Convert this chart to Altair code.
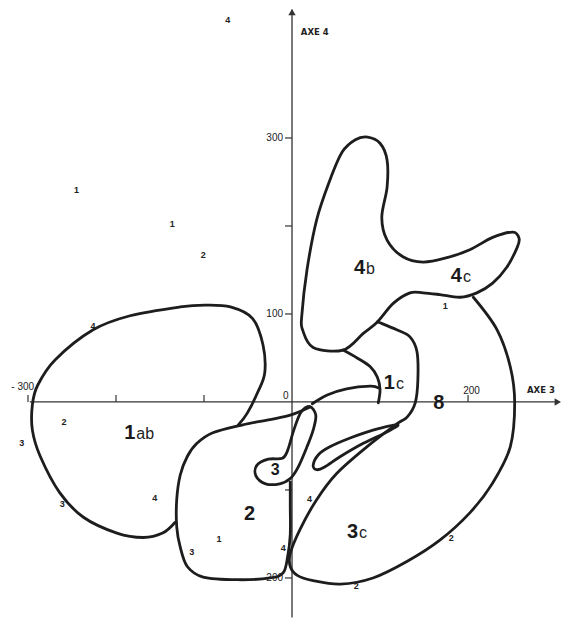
import altair as alt
import pandas as pd

# ---- contour outlines (AXE 3 / AXE 4 units) ----
# group 1ab outline, open where it meets group 2
ab_x = [-61, -51, -39, -31, -33, -45, -70, -99, -127, -184, -226, -269, -289, -295, -295, -286, -264, -237, -199, -169, -147, -133]
ab_y = [-26, -13, 11, 33, 65, 95, 108, 110, 108, 98, 82, 48, 19, -3, -32, -62, -103, -131, -149, -154, -149, -137]

# group 2 outline
g2_x = [20, -2, -25, -56, -90, -108, -119, -127, -131, -131, -127, -119, -101, -62, -25, -10, -5, -2, -2, -2]
g2_y = [-6, -15, -20, -26, -35, -47, -62, -83, -111, -142, -165, -187, -199, -202, -200, -194, -176, -151, -117, -91]

# group 3 bulb with its stalk (closed)
g3_x = [20, 27, 24, 17, 7, -2, -14, -30, -41, -40, -27, -11, -5, 2, 10]
g3_y = [-5, -15, -32, -51, -74, -87, -93, -93, -84, -72, -65, -64, -55, -32, -12]

# group 1c: lower edge and neck
c1_x = [23, 40, 62, 89, 98]
c1_y = [-2, 8, 15, 18, 16]
nk_x = [58, 74, 89, 97, 100, 98]
nk_y = [59, 50, 40, 28, 14, -1]

# groups 4b / 4c (closed)
g4_x = [11, 17, 28, 43, 57, 72, 86, 100, 108, 108, 102, 108, 126, 149, 176, 202, 228, 251, 258, 256, 244, 228, 210, 191, 168, 149, 134, 115, 97, 81, 58, 24, 12]
g4_y = [97, 150, 207, 252, 284, 298, 301, 294, 275, 244, 210, 184, 165, 159, 164, 173, 187, 193, 186, 176, 153, 135, 124, 119, 122, 124, 124, 112, 91, 78, 59, 62, 82]

# outer arc: 1c right side, 3c and the large right-hand group
oa_x = [97, 100, 119, 134, 142, 143, 140, 131, 119, 85, 51, 28, 9, -2, -2, 6, 24, 55, 92, 131, 168, 202, 228, 248, 253, 248, 233, 206]
oa_y = [91, 90, 82, 74, 57, 25, -1, -17, -25, -51, -81, -111, -145, -172, -187, -197, -203, -207, -200, -181, -157, -126, -92, -51, -1, 40, 82, 119]

# thin loop below 1c (closed)
tl_x = [120, 92, 66, 43, 30, 24, 28, 37, 55, 81, 108]
tl_y = [-26, -32, -41, -51, -60, -72, -77, -74, -62, -47, -34]

# ---- individual observations ----
pt_lab = ["4", "1", "1", "2", "4", "2", "3", "3", "4", "3", "1", "4", "4", "2", "2", "1"]
pt_x = [-73, -245, -136, -101, -226, -259, -307, -261, -156, -114, -83, -10, 20, 181, 73, 174]
pt_y = [434, 241, 202, 167, 86, -23, -47, -116, -109, -170, -156, -166, -110, -155, -209, 109]

# ---- group names (number + letter suffix) ----
grp_num = ["1", "2", "3", "1", "8", "4", "4"]
grp_suf = ["ab", "", "c", "c", "", "b", "c"]
grp_x = [-178, -42, 75, 117, 173, 83, 193]
grp_y = [-35, -127, -148, 22, -1, 152, 143]
bulb_lab = ["3"]
bulb_x = [-14]
bulb_y = [-77]

# ---- axes ----
y_ticks = [300, 200, 100, -100, -200]
y_tick_lab = ["300", "", "100", "", "-200"]
x_ticks = [-300, -200, -100, 200]

X0, X1 = -331.8, 307.9
Y0, Y1 = -245.5, 456.8
xs = alt.Scale(domain=[X0, X1], nice=False, zero=False)
ys = alt.Scale(domain=[Y0, Y1], nice=False, zero=False)
INK = "#1d1d1d"


def frame(name, xv, yv):
    return pd.DataFrame({"path": name, "order": list(range(len(xv))), "x": xv, "y": yv})


open_df = pd.concat([frame("1ab", ab_x, ab_y), frame("2", g2_x, g2_y),
                     frame("1c", c1_x, c1_y), frame("neck", nk_x, nk_y),
                     frame("arc", oa_x, oa_y)])
closed_df = pd.concat([frame("3", g3_x, g3_y), frame("4bc", g4_x, g4_y),
                       frame("loop", tl_x, tl_y)])

ex = alt.X("x:Q", scale=xs, axis=None)
ey = alt.Y("y:Q", scale=ys, axis=None)

open_lines = alt.Chart(open_df).mark_line(
    interpolate="cardinal", color=INK, strokeWidth=2.8, strokeCap="round", strokeJoin="round"
).encode(x=ex, y=ey, detail="path:N", order="order:Q")

closed_lines = alt.Chart(closed_df).mark_line(
    interpolate="cardinal-closed", color=INK, strokeWidth=2.8, strokeJoin="round"
).encode(x=ex, y=ey, detail="path:N", order="order:Q")

# axis lines
axes_df = pd.DataFrame({"x": [-298, 0], "x2": [300, 0], "y": [0, -245], "y2": [0, 446]})
axis_lines = alt.Chart(axes_df).mark_rule(color="#333", strokeWidth=1.3).encode(
    x=ex, x2="x2:Q", y=ey, y2="y2:Q")

arrow_df = pd.DataFrame({"x": [0], "y": [443]})
arrow_up = alt.Chart(arrow_df).mark_point(shape="triangle-up", filled=True, size=55,
                                          color="#333", opacity=1).encode(x=ex, y=ey)
arrow_r_df = pd.DataFrame({"x": [302], "y": [0]})
arrow_right = alt.Chart(arrow_r_df).mark_point(shape="triangle-right", filled=True, size=55,
                                               color="#333", opacity=1).encode(x=ex, y=ey)

yt_df = pd.DataFrame({"x": [-8] * len(y_ticks), "x2": [0] * len(y_ticks), "y": y_ticks, "lab": y_tick_lab})
y_tick_marks = alt.Chart(yt_df).mark_rule(color="#333", strokeWidth=1.2).encode(x=ex, x2="x2:Q", y=ey)
y_tick_text = alt.Chart(yt_df).mark_text(align="right", baseline="middle", dx=-9, fontSize=10,
                                         font="Liberation Sans", color="#222").encode(
    x=alt.X("x2:Q", scale=xs, axis=None), y=ey, text="lab:N")

xt_df = pd.DataFrame({"x": x_ticks, "y": [0] * len(x_ticks), "y2": [8] * len(x_ticks)})
x_tick_marks = alt.Chart(xt_df).mark_rule(color="#333", strokeWidth=1.2).encode(x=ex, y=ey, y2="y2:Q")

axis_text_df = pd.DataFrame({
    "x": [-306, -7, 204],
    "y": [17, 7, 12],
    "lab": ["- 300", "0", "200"],
})
axis_text = alt.Chart(axis_text_df).mark_text(baseline="middle", fontSize=10, font="Liberation Sans",
                                              color="#222").encode(x=ex, y=ey, text="lab:N")

title_df = pd.DataFrame({"x": [10, 267], "y": [420, 14], "lab": ["AXE 4", "AXE 3"]})
axis_titles = alt.Chart(title_df).mark_text(align="left", baseline="middle", fontSize=8.5,
                                            fontWeight="bold", font="DejaVu Sans",
                                            color="#222").encode(x=ex, y=ey, text="lab:N")

# observation numbers
pts_df = pd.DataFrame({"x": pt_x, "y": pt_y, "lab": pt_lab})
points = alt.Chart(pts_df).mark_text(fontSize=9, fontWeight="bold", font="Liberation Sans",
                                     color="#222", baseline="middle").encode(x=ex, y=ey, text="lab:N")

# group names
grp_df = pd.DataFrame({"x": grp_x, "y": grp_y, "num": grp_num, "suf": grp_suf})
grp_num_text = alt.Chart(grp_df).mark_text(align="right", baseline="middle", fontSize=20,
                                           fontWeight="bold", font="Liberation Sans",
                                           color="#1a1a1a").encode(x=ex, y=ey, text="num:N")
grp_suf_text = alt.Chart(grp_df).mark_text(align="left", baseline="middle", dx=1, dy=1, fontSize=16,
                                           font="Liberation Sans", color="#222").encode(
    x=ex, y=ey, text="suf:N")
bulb_df = pd.DataFrame({"x": bulb_x, "y": bulb_y, "lab": bulb_lab})
bulb_text = alt.Chart(bulb_df).mark_text(align="right", baseline="middle", fontSize=16,
                                         fontWeight="bold", font="Liberation Sans",
                                         color="#1a1a1a").encode(x=ex, y=ey, text="lab:N")

chart = alt.layer(
    axis_lines, arrow_up, arrow_right, y_tick_marks, x_tick_marks, y_tick_text, axis_text,
    axis_titles, open_lines, closed_lines, points, grp_num_text, grp_suf_text, bulb_text
).properties(
    width=563, height=618, padding=0, autosize="none", background="white"
).configure_view(stroke=None)

chart.save("out.html", embed_options={"renderer": "svg", "actions": False})
